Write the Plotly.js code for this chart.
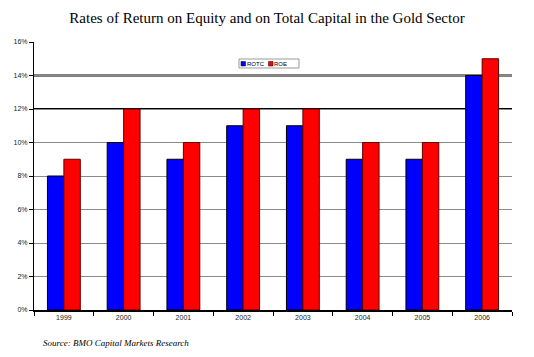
<!DOCTYPE html>
<html><head><meta charset="utf-8">
<script src="https://cdn.plot.ly/plotly-3.0.1.min.js"></script>
<style>body{margin:0;background:#fff}#c{width:534px;height:357px}</style>
</head><body><div id="c"></div>
<script>
const years = ['1999','2000','2001','2002','2003','2004','2005','2006'];
const rotc = [8, 10, 9, 11, 11, 9, 9, 14];
const roe = [9, 12, 10, 12, 12, 10, 10, 15];
const seriesNames = ['ROTC', 'ROE'];
const seriesColors = ['#0000ff', '#ff0000'];
const yTickVals = [0, 2, 4, 6, 8, 10, 12, 14, 16];
const yTickText = ['0%','2%','4%','6%','8%','10%','12%','14%','16%'];
const darkGridAt = [12, 14];

const L = 34, R = 512, T = 42, B = 310;
const px = v => (v - L) / (R - L);
const py = v => (B - v) / (B - T);

const traces = [
  {type:'bar', name:seriesNames[0], x:years, y:rotc, marker:{color:seriesColors[0], line:{color:'#000000', width:1}}},
  {type:'bar', name:seriesNames[1], x:years, y:roe, marker:{color:seriesColors[1], line:{color:'#600000', width:1}}}
];
const shapes = darkGridAt.map(v => ({type:'line', xref:'paper', yref:'y', x0:0, x1:1, y0:v, y1:v, line:{color:'#000', width:2}, layer:'between'}));
// custom compact legend
shapes.push({type:'rect', xref:'paper', yref:'paper', x0:px(239), x1:px(299), y0:py(59), y1:py(68), line:{color:'#999', width:1}, fillcolor:'#fff'});
shapes.push({type:'rect', xref:'paper', yref:'paper', x0:px(241), x1:px(245.5), y0:py(61.5), y1:py(66), line:{color:'#000', width:0.5}, fillcolor:seriesColors[0]});
shapes.push({type:'rect', xref:'paper', yref:'paper', x0:px(268.5), x1:px(273), y0:py(61.5), y1:py(66), line:{color:'#000', width:0.5}, fillcolor:seriesColors[1]});
const legFont = {family:'Liberation Sans, Arial, sans-serif', size:6, color:'#000'};
const annotations = [
  {text:seriesNames[0], xref:'paper', yref:'paper', x:px(245.5), y:py(63.7), xanchor:'left', yanchor:'middle', showarrow:false, borderpad:0, font:legFont},
  {text:seriesNames[1], xref:'paper', yref:'paper', x:px(273), y:py(63.7), xanchor:'left', yanchor:'middle', showarrow:false, borderpad:0, font:legFont},
  {text:'Source: BMO Capital Markets Research', xref:'paper', yref:'paper', x:px(41), y:py(343), xanchor:'left', yanchor:'middle', showarrow:false, font:{family:'Liberation Serif, Times New Roman, serif', size:9, color:'#000', style:'italic'}}
];
const layout = {
  width:534, height:357,
  margin:{l:L, r:534-R, t:T, b:357-B},
  paper_bgcolor:'#fff', plot_bgcolor:'#fff',
  title:{text:'Rates of Return on Equity and on Total Capital in the Gold Sector', x:0.5, xanchor:'center', y:0.95, yanchor:'middle', font:{family:'Liberation Serif, Times New Roman, serif', size:15, color:'#000'}},
  barmode:'group', bargap:0.45, bargroupgap:0,
  showlegend:false,
  xaxis:{type:'category', tickson:'boundaries', ticks:'outside', ticklen:4, tickcolor:'#000', showline:true, linecolor:'#000', linewidth:1.5, showgrid:false, tickfont:{family:'Liberation Sans, Arial, sans-serif', size:7, color:'#222'}},
  yaxis:{range:[0,16], tickvals:yTickVals, ticktext:yTickText, ticks:'outside', ticklen:4, tickcolor:'#000', showline:true, linecolor:'#000', linewidth:1, gridcolor:'#8a8a8a', gridwidth:1, zeroline:false, tickfont:{family:'Liberation Sans, Arial, sans-serif', size:7, color:'#222'}},
  shapes:shapes,
  annotations:annotations
};
Plotly.newPlot('c', traces, layout, {displayModeBar:false, staticPlot:true});
</script></body></html>
